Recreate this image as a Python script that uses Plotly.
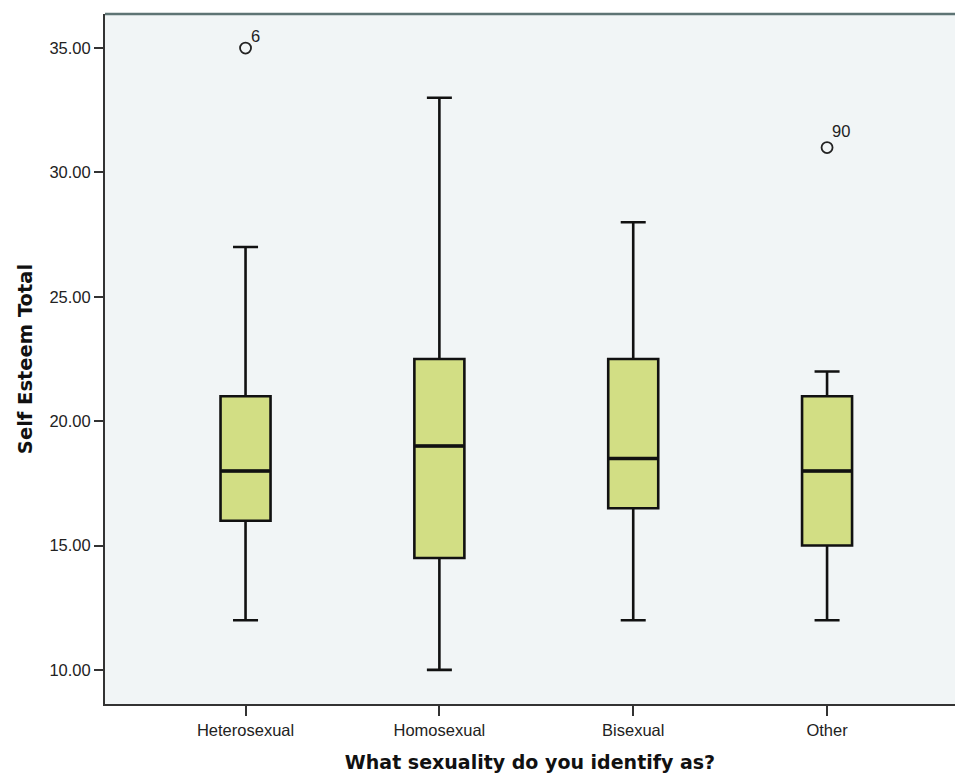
import plotly.graph_objects as go

categories = ["Heterosexual", "Homosexual", "Bisexual", "Other"]
lower_whisker = [12, 10, 12, 12]
q1 = [16, 14.5, 16.5, 15]
median = [18, 19, 18.5, 18]
q3 = [21, 22.5, 22.5, 21]
upper_whisker = [27, 33, 28, 22]
outlier_category = [0, 3]
outlier_value = [35, 31]
outlier_label = ["6", "90"]
y_ticks = [10, 15, 20, 25, 30, 35]

label_yshift = [1, 6]  # style: label offsets in pixels

positions = list(range(len(categories)))
BOX_W = 0.258
FILL = "#D2DE84"
LINE = "#111111"

fig = go.Figure()
fig.add_trace(go.Box(
    x=positions, q1=q1, median=median, q3=q3,
    lowerfence=lower_whisker, upperfence=upper_whisker,
    width=BOX_W, whiskerwidth=0.5, boxpoints=False,
    fillcolor=FILL, line=dict(color=LINE, width=2.6),
    showlegend=False,
))

# thicker median lines
mx, my = [], []
for p, m in zip(positions, median):
    mx += [p - BOX_W / 2 * 0.97, p + BOX_W / 2 * 0.97, None]
    my += [m, m, None]
fig.add_trace(go.Scatter(x=mx, y=my, mode="lines",
                         line=dict(color=LINE, width=3.5), showlegend=False,
                         hoverinfo="skip"))

# outliers
fig.add_trace(go.Scatter(
    x=outlier_category, y=outlier_value, mode="markers",
    marker=dict(symbol="circle-open", size=11, color="#222222",
                line=dict(width=1.8, color="#222222")),
    showlegend=False,
))
for xc, yv, lab, ys in zip(outlier_category, outlier_value, outlier_label, label_yshift):
    fig.add_annotation(x=xc, y=yv, text=lab, showarrow=False,
                       xanchor="left", yanchor="bottom", xshift=3, yshift=ys,
                       font=dict(family="Liberation Sans, Arial", size=16.5, color="#222222"))

fig.add_shape(type="line", xref="paper", yref="paper", x0=0, x1=1, y0=1, y1=1,
              line=dict(color="#5E7474", width=2.5))

fig.update_layout(
    width=955, height=776,
    margin=dict(l=105, r=0, t=14, b=72),
    paper_bgcolor="white", plot_bgcolor="#F1F5F6",
    font=dict(family="Liberation Sans, Arial", size=17, color="#222222"),
)
fig.update_xaxes(
    range=[-0.725, 3.66], tickvals=positions, ticktext=categories,
    showgrid=False, zeroline=False,
    showline=True, linecolor="#333333", linewidth=2,
    ticks="outside", ticklen=10, tickwidth=2, tickcolor="#333333",
    tickfont=dict(size=16.5),
    title=dict(text="<b>What sexuality do you identify as?</b>",
               font=dict(family="DejaVu Sans", size=19, color="#111111"), standoff=18),
)
fig.update_yaxes(
    range=[8.63, 36.37], tickvals=y_ticks, ticktext=[f"{v:.2f}" for v in y_ticks],
    showgrid=False, zeroline=False,
    showline=True, linecolor="#333333", linewidth=2,
    ticks="outside", ticklen=9, tickwidth=2, tickcolor="#333333",
    tickfont=dict(size=16.5),
    title=dict(text="<b>Self Esteem Total</b>",
               font=dict(family="DejaVu Sans", size=19.5, color="#111111"), standoff=12),
)

fig.write_html("out.html", config={"displayModeBar": False},
               post_script="document.body.style.margin='0px';document.body.style.overflow='hidden';")
